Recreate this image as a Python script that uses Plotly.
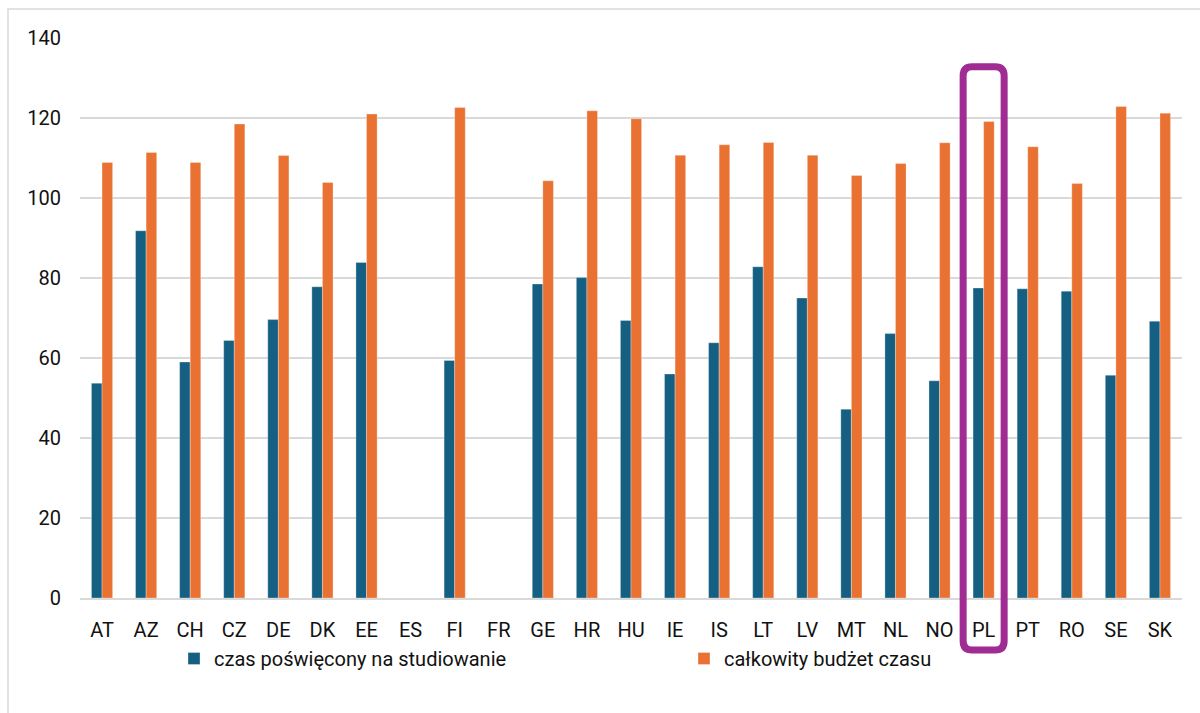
import plotly.graph_objects as go

countries = ["AT", "AZ", "CH", "CZ", "DE", "DK", "EE", "ES", "FI", "FR", "GE", "HR", "HU",
             "IE", "IS", "LT", "LV", "MT", "NL", "NO", "PL", "PT", "RO", "SE", "SK"]
study_time = [53.7, 91.8, 59.0, 64.4, 69.6, 77.8, 83.9, None, 59.4, None, 78.5, 80.1, 69.4,
              56.0, 63.8, 82.8, 75.0, 47.2, 66.1, 54.3, 77.5, 77.3, 76.7, 55.7, 69.2]
total_time = [108.9, 111.4, 108.9, 118.5, 110.6, 103.9, 121.0, None, 122.6, None, 104.3, 121.8, 119.8,
              110.7, 113.3, 113.9, 110.7, 105.6, 108.6, 113.8, 119.1, 112.8, 103.6, 122.9, 121.2]
series_names = ["czas poświęcony na studiowanie", "całkowity budżet czasu"]
highlight = "PL"
y_ticks = [0, 20, 40, 60, 80, 100, 120, 140]

BLUE = "#156082"
ORANGE = "#E97132"
PURPLE = "#A02B93"
GRID = "#D9D9D9"
FONT = "Roboto"
FS = 20

W, H = 1200, 713
ML, MR, MT, MB = 80, 18, 38, 115
pw = W - ML - MR
ph = H - MT - MB

fig = go.Figure()
fig.add_trace(go.Bar(x=countries, y=study_time, name=series_names[0], legend="legend",
                     marker=dict(color=BLUE, line=dict(color="rgba(255,255,255,0.5)", width=0.6))))
fig.add_trace(go.Bar(x=countries, y=total_time, name=series_names[1], legend="legend2",
                     marker=dict(color=ORANGE, line=dict(color="rgba(255,255,255,0.5)", width=0.6))))

# highlight box around PL (paper coords computed from category index)
idx = countries.index(highlight)
n = len(countries)
cx = (idx + 0.5) / n
hw = 20.5 / pw
x0, x1 = cx - hw, cx + hw
y1 = (ph - 28.8) / ph      # top of box
y0 = -52.0 / ph            # bottom of box (below axis labels)
rx, ry = 9.0 / pw, 9.0 / ph
path = (f"M {x0+rx},{y1} L {x1-rx},{y1} Q {x1},{y1} {x1},{y1-ry} "
        f"L {x1},{y0+ry} Q {x1},{y0} {x1-rx},{y0} L {x0+rx},{y0} Q {x0},{y0} {x0},{y0+ry} "
        f"L {x0},{y1-ry} Q {x0},{y1} {x0+rx},{y1} Z")
fig.add_shape(type="path", path=path, xref="paper", yref="paper",
              line=dict(color=PURPLE, width=7))

# outer chart border
bx0 = (8 - ML) / pw
by1 = (ph + MT - 9) / ph
fig.add_shape(type="rect", xref="paper", yref="paper", x0=bx0, x1=(1210 - ML) / pw,
              y0=-(MB + 20) / ph, y1=by1, line=dict(color=GRID, width=1.5), layer="below")

leg_common = dict(orientation="h", xanchor="left", yanchor="middle", y=-60.5 / ph,
                  itemwidth=30, font=dict(family=FONT, size=FS, color="#111111"),
                  bgcolor="rgba(0,0,0,0)")

fig.update_layout(
    width=W, height=H,
    margin=dict(l=ML, r=MR, t=MT, b=MB, autoexpand=False),
    paper_bgcolor="white", plot_bgcolor="white",
    barmode="group", bargap=0.52, bargroupgap=0,
    font=dict(family=FONT, size=FS, color="#111111"),
    showlegend=True,
    legend=dict(x=(174 - ML) / pw, **leg_common),
    legend2=dict(x=(684 - ML) / pw, **leg_common),
    xaxis=dict(type="category", showgrid=False, showline=True, linecolor=GRID, linewidth=1.5,
               ticks="", ticklabelstandoff=13, tickfont=dict(size=FS)),
    yaxis=dict(range=[0, 140], tickvals=y_ticks, showgrid=True, gridcolor=GRID, gridwidth=1.5,
               zeroline=False, showline=False, ticks="", ticklabelstandoff=18,
               tickfont=dict(size=FS)),
)

fig.write_html("out.html", config={"displayModeBar": False},
               post_script="document.body.style.margin='0';")
